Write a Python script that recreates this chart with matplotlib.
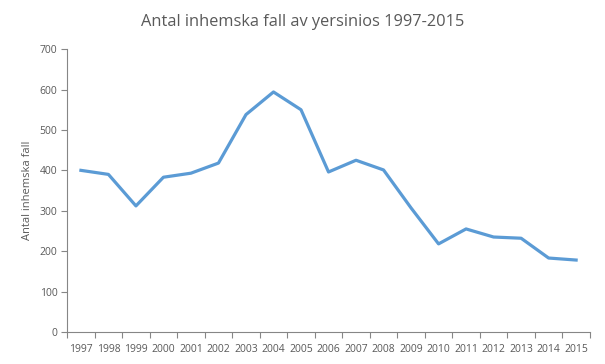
import matplotlib
matplotlib.use("Agg")
import matplotlib.pyplot as plt
import numpy as np

years = [str(y) for y in range(1997, 2016)]
cases = [400, 390, 312, 383, 393, 418, 538, 594, 550, 396, 425, 401, 307, 218, 255, 235, 232, 183, 178]

plt.rcParams['font.family'] = ['Open Sans', 'DejaVu Sans']
gray = '#595959'
axcol = '#868686'

fig = plt.figure(figsize=(6.05, 3.64), dpi=100)
ax = fig.add_axes([0.111, 0.088, 0.864, 0.777])
x = np.arange(len(years))
ax.plot(x, cases, color='#5B9BD5', lw=2.3, solid_joinstyle='round')

ax.set_xlim(-0.5, len(years) - 0.5)
ax.set_ylim(0, 700)
ax.set_yticks(range(0, 701, 100))
ax.set_xticks(x)
ax.set_xticklabels(years)
ax.set_xticks(np.arange(-0.5, len(years), 1), minor=True)
ax.tick_params(axis='x', which='major', length=0, labelsize=7.5, colors=gray, pad=9)
ax.tick_params(axis='x', which='minor', length=4, color=axcol, width=0.8)
ax.tick_params(axis='y', length=4, color=axcol, width=0.8, labelsize=7.5, colors=gray, pad=3)
for s in ['top', 'right']:
    ax.spines[s].set_visible(False)
for s in ['left', 'bottom']:
    ax.spines[s].set_color(axcol)
    ax.spines[s].set_linewidth(0.8)

ax.set_ylabel('Antal inhemska fall', fontsize=8, color=gray, labelpad=5)
fig.text(0.5, 0.94, 'Antal inhemska fall av yersinios 1997-2015', ha='center', va='center', fontsize=11.8, color=gray)

fig.savefig('out.png', dpi=100)
